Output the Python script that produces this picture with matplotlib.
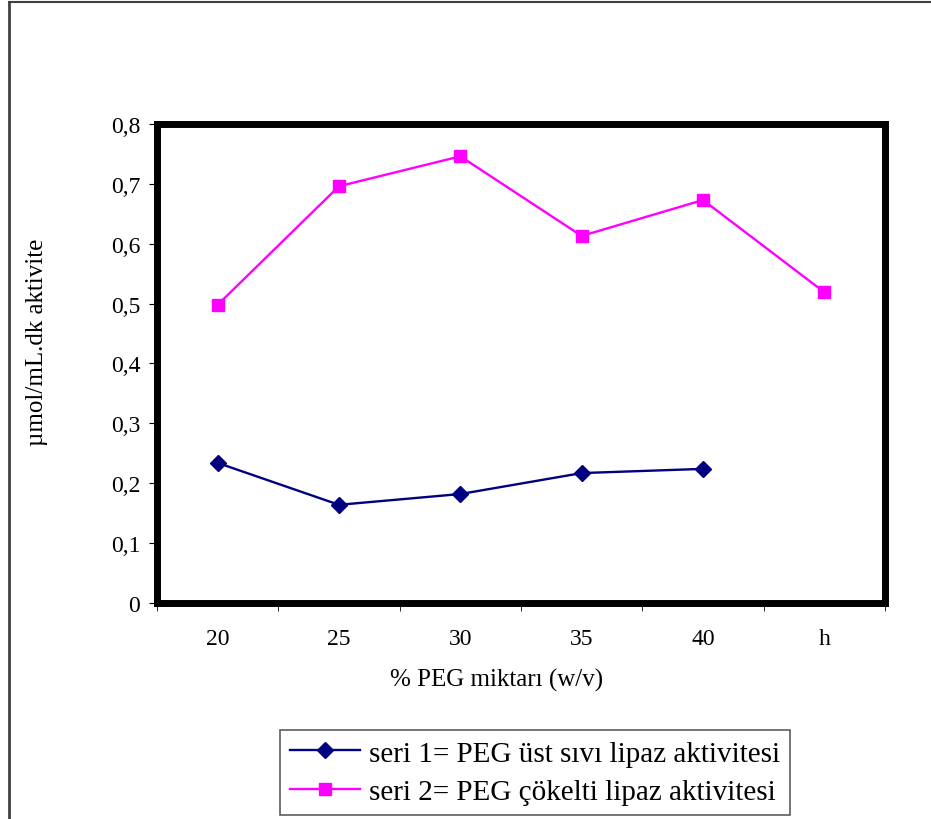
import numpy as np
import matplotlib.pyplot as plt
from matplotlib.lines import Line2D

# datos
kategoriler = ['20', '25', '30', '35', '40', 'h']
seri1 = [0.234, 0.164, 0.182, 0.217, 0.224]
seri2 = [0.498, 0.696, 0.746, 0.613, 0.673, 0.519]
y_ticks = [0, 0.1, 0.2, 0.3, 0.4, 0.5, 0.6, 0.7, 0.8]
y_etiket = ['0', '0,1', '0,2', '0,3', '0,4', '0,5', '0,6', '0,7', '0,8']

plt.rcParams['font.family'] = ['Liberation Serif', 'DejaVu Serif']

fig = plt.figure(figsize=(9.31, 8.2), dpi=100)
ax = fig.add_axes([0.1686, 0.2634, 0.782, 0.5842])

x = np.arange(len(kategoriler))
ax.plot(x[:len(seri1)], seri1, color='#000080', marker='D', markersize=8,
        linewidth=1.7, label='seri 1= PEG üst sıvı lipaz aktivitesi')
ax.plot(x, seri2, color='#FF00FF', marker='s', markersize=9,
        linewidth=1.7, label='seri 2= PEG çökelti lipaz aktivitesi')

ax.set_xlim(-0.5, len(kategoriler) - 0.5)
ax.set_ylim(0, 0.8)
ax.set_yticks(y_ticks)
ax.set_yticklabels(y_etiket, fontsize=17)
ax.set_xticks(x)
ax.set_xticklabels(kategoriler, fontsize=17)
ax.tick_params(axis='x', length=0, pad=18)
ax.set_xticks(np.arange(-0.5, len(kategoriler)), minor=True)
ax.tick_params(axis='x', which='minor', length=6, direction='out')
ax.tick_params(axis='y', length=6, direction='out', pad=6)

for s in ax.spines.values():
    s.set_linewidth(5)
    s.set_color('black')

ax.set_xlabel('% PEG miktarı (w/v)', fontsize=18, labelpad=16)
ax.xaxis.set_label_coords(0.467, -0.136)
ax.set_ylabel('µmol/mL.dk aktivite', fontsize=18)
ax.yaxis.set_label_coords(-0.150, 0.547)

leg = fig.legend(loc='upper left', bbox_to_anchor=(0.3008, 0.1085), fontsize=21,
                 frameon=True, fancybox=False, borderpad=0.35, handlelength=2.4,
                 labelspacing=0.4, borderaxespad=0, handletextpad=0.3)
leg.get_frame().set_edgecolor('#333333')
leg.get_frame().set_linewidth(1.2)

# dis cerceve
fig.add_artist(Line2D([0.0097, 0.0097], [0, 0.996], color='#404040', linewidth=2,
                      transform=fig.transFigure))
fig.add_artist(Line2D([0.0097, 1.0], [0.996, 0.996], color='#404040', linewidth=1.5,
                      transform=fig.transFigure))

fig.savefig('out.png', dpi=100)
